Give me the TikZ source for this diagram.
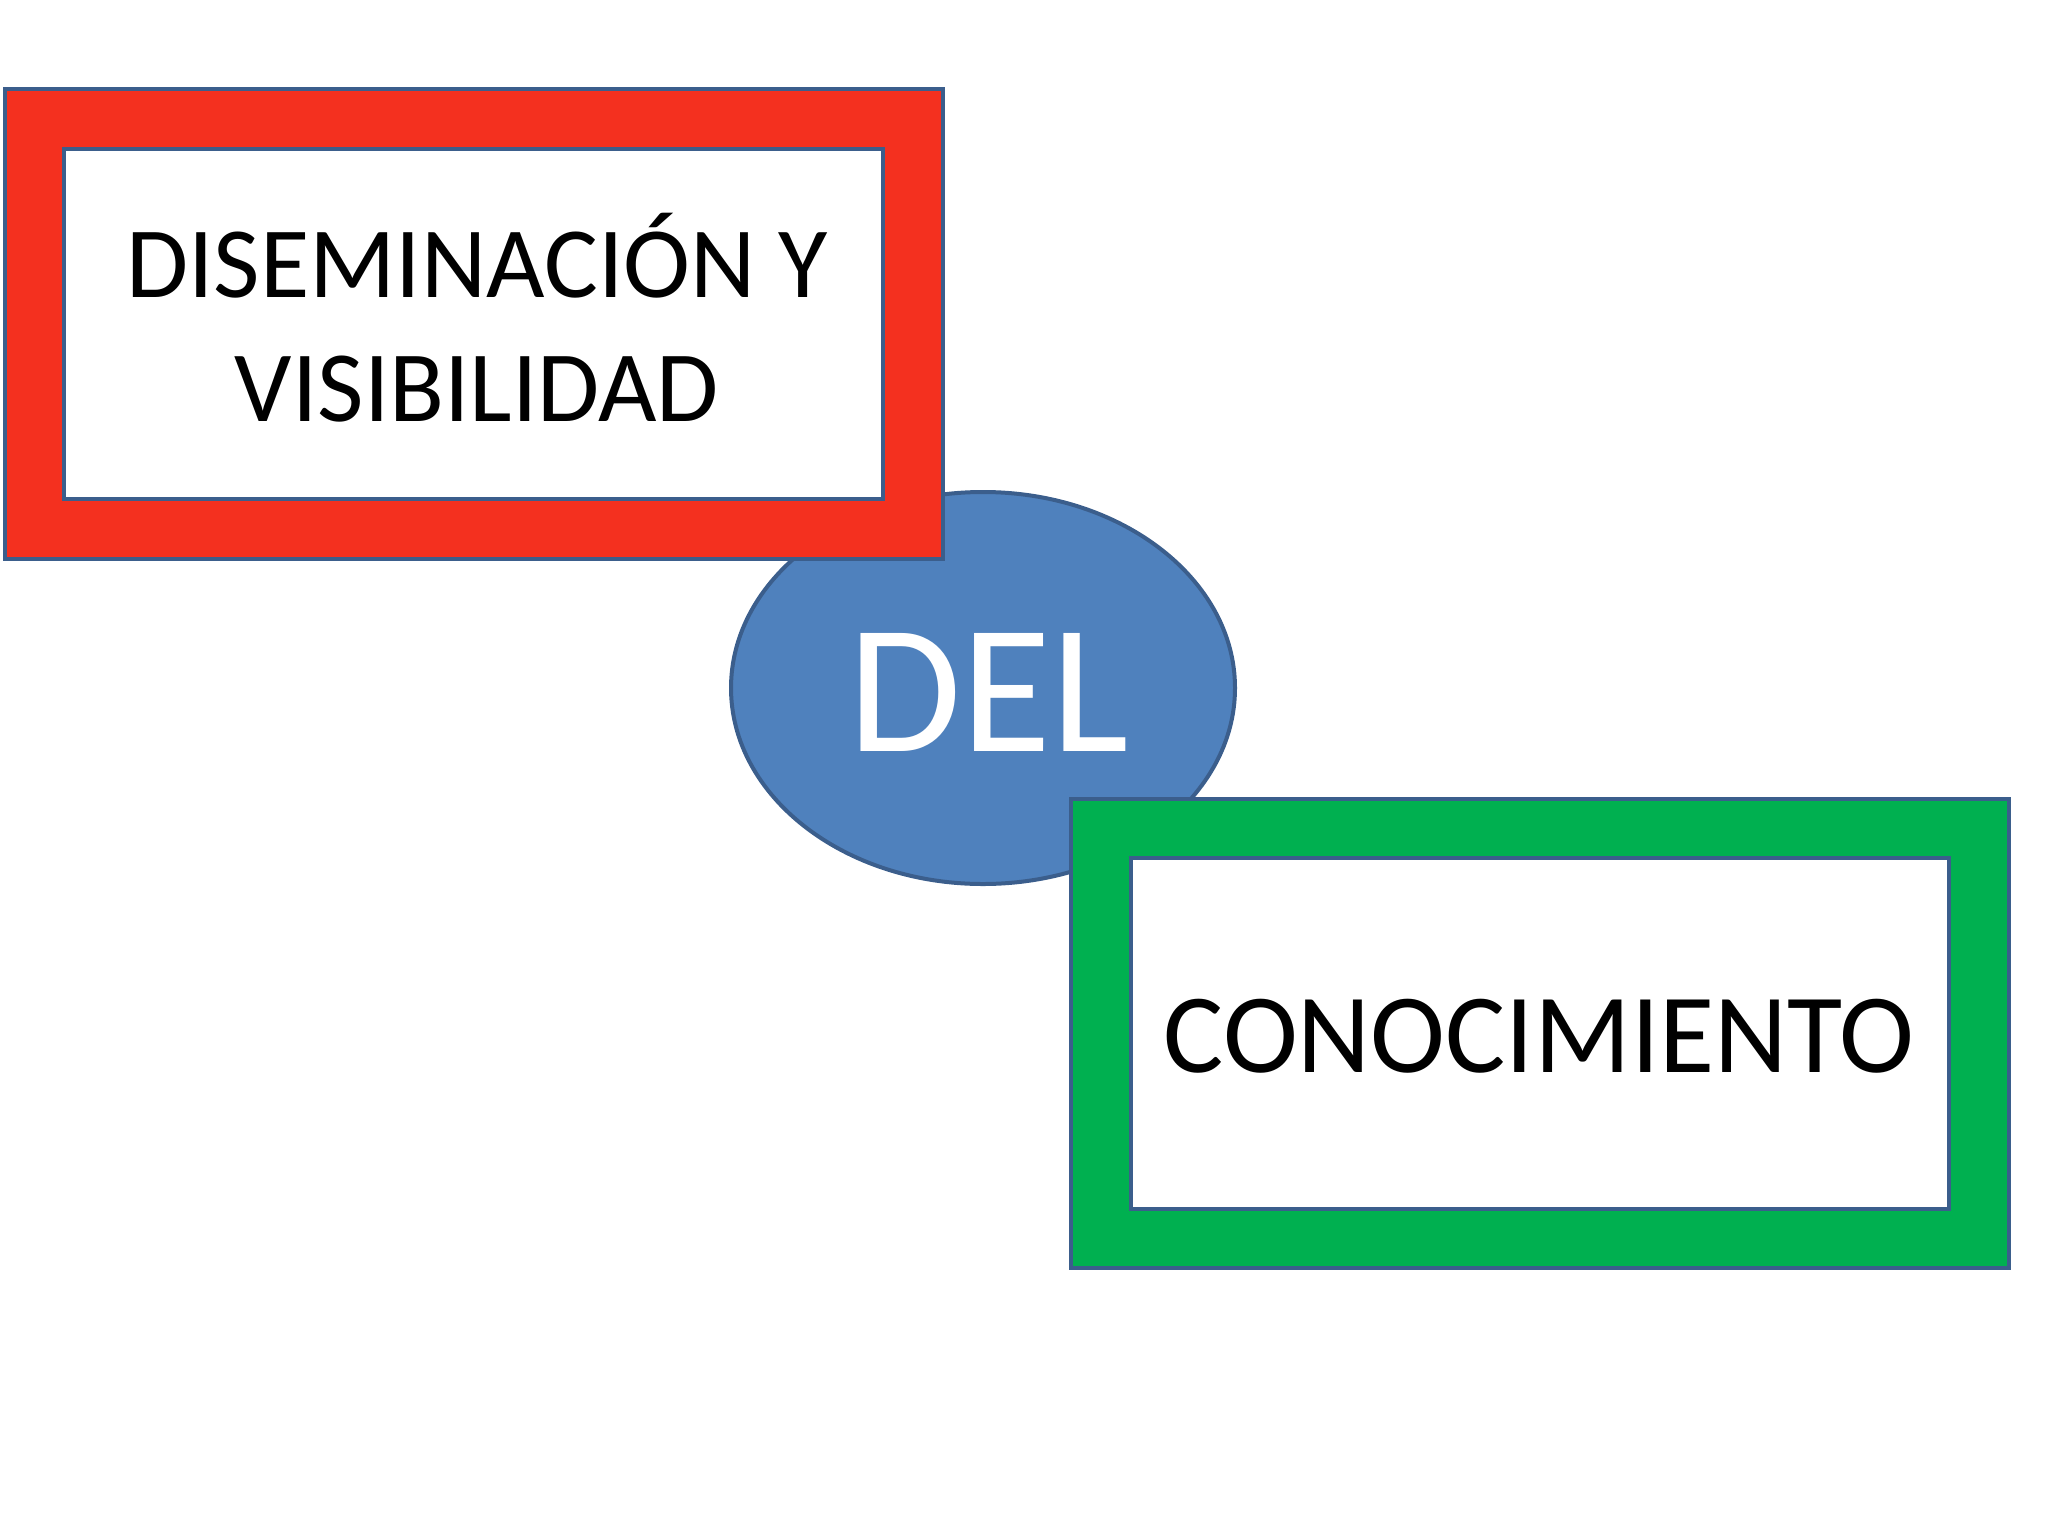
\documentclass[tikz,border=0pt]{standalone}
\usepackage{fontspec}
\setmainfont{Carlito}
\usetikzlibrary{shapes.geometric}
\definecolor{redfill}{HTML}{F4301F}
\definecolor{greenfill}{HTML}{00B050}
\definecolor{bluefill}{HTML}{4F81BD}
\definecolor{edgeblue}{HTML}{3B5E8C}
\begin{document}
\begin{tikzpicture}[x=0.5pt,y=-0.5pt,
  frame/.style={draw=edgeblue,line width=2pt,inner sep=0pt,outer sep=0pt},
  txt/.style={font=\fontsize{50.5}{62}\selectfont,align=center,text=black}]
\useasboundingbox (0,0) rectangle (2048,1536);
% ellipse
\node[ellipse,draw=edgeblue,line width=2pt,fill=bluefill,minimum width=252pt,minimum height=196pt,inner sep=0pt] (del) at (983,688) {};
\node[text=white,font=\fontsize{92}{100}\selectfont] (deltext) at (989,692) {DEL};
% red box
\node[frame,fill=redfill,minimum width=469pt,minimum height=235pt] (redbox) at (474,324) {};
\node[frame,fill=white,minimum width=409.5pt,minimum height=175pt] (redin) at (473.5,324) {};
\node[txt] (redtext) at (477,318) {DISEMINACIÓN Y\\VISIBILIDAD};
% green box
\node[frame,fill=greenfill,minimum width=469pt,minimum height=234.5pt] (greenbox) at (1540,1033.5) {};
\node[frame,fill=white,minimum width=409pt,minimum height=175.5pt] (greenin) at (1540,1033.5) {};
\node[txt,font=\fontsize{56.5}{66}\selectfont] (greentext) at (1539,1036) {CONOCIMIENTO};
\end{tikzpicture}
\end{document}
